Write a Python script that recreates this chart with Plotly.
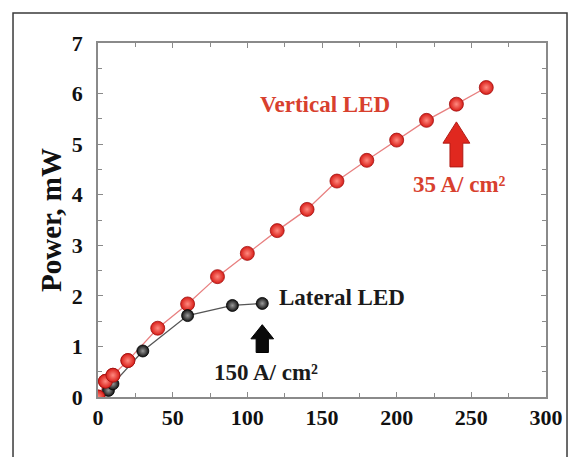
import plotly.graph_objects as go

# Data
vert_x = [0, 5, 10, 20, 40, 60, 80, 100, 120, 140, 160, 180, 200, 220, 240, 260]
vert_y = [0.0, 0.31, 0.43, 0.72, 1.36, 1.84, 2.38, 2.84, 3.29, 3.71, 4.27, 4.68, 5.08, 5.47, 5.79, 6.12]
lat_x = [0, 7, 10, 30, 60, 90, 110]
lat_y = [0.0, 0.13, 0.26, 0.91, 1.61, 1.81, 1.85]

x_ticks = [0, 50, 100, 150, 200, 250, 300]
y_ticks = [0, 1, 2, 3, 4, 5, 6, 7]

RED = "#e0281f"
FONT = "Liberation Serif"

fig = go.Figure()
fig.add_trace(go.Scatter(
    x=vert_x, y=vert_y, mode="lines+markers", name="Vertical LED",
    line=dict(color="#e88080", width=1.3),
    marker=dict(size=14, color="#d81c16", line=dict(color="#a01010", width=0.8),
                gradient=dict(type="radial", color="#ff8a80")),
    showlegend=False))
fig.add_trace(go.Scatter(
    x=lat_x, y=lat_y, mode="lines+markers", name="Lateral LED",
    line=dict(color="#555555", width=1.3),
    marker=dict(size=12, color="#111111", line=dict(color="#000000", width=0.8),
                gradient=dict(type="radial", color="#9a9a9a")),
    showlegend=False))
# red points near origin drawn on top as in reference
fig.add_trace(go.Scatter(
    x=vert_x[:4], y=vert_y[:4], mode="markers",
    marker=dict(size=14, color="#d81c16", line=dict(color="#a01010", width=0.8),
                gradient=dict(type="radial", color="#ff8a80")),
    showlegend=False, hoverinfo="skip"))


def block_arrow(xc, tip, base, bottom, half_head, half_shaft):
    return ("M {0} {1} L {2} {3} L {4} {3} L {4} {5} L {6} {5} L {6} {3} L {7} {3} Z"
            .format(xc, tip, xc + half_head, base, xc + half_shaft, bottom,
                    xc - half_shaft, xc - half_head))

shapes = [
    dict(type="path", xref="x", yref="y",
         path=block_arrow(vert_x[14], 5.44, 5.02, 4.55, 9.0, 4.3),
         fillcolor=RED, line=dict(color="#b01a14", width=1)),
    dict(type="path", xref="x", yref="y",
         path=block_arrow(lat_x[6], 1.43, 1.15, 0.88, 7.6, 4.1),
         fillcolor="#0a0a0a", line=dict(color="#000000", width=1)),
    dict(type="rect", xref="paper", yref="paper",
         x0=-0.1897, x1=1.0469, y0=-0.25, y1=1.0847,
         line=dict(color="#3a3a3a", width=1.5), layer="below"),
]

annotations = [
    dict(x=152, y=5.79, xref="x", yref="y", text="Vertical LED", showarrow=False,
         font=dict(family=FONT, size=23, color="#d8402e", weight="bold")),
    dict(x=242, y=4.21, xref="x", yref="y", text="35 A/ cm²", showarrow=False,
         font=dict(family=FONT, size=23, color="#d8402e", weight="bold")),
    dict(x=163.5, y=1.96, xref="x", yref="y", text="Lateral LED", showarrow=False,
         font=dict(family=FONT, size=23, color="#1a1a1a", weight="bold")),
    dict(x=112.5, y=0.48, xref="x", yref="y", text="150 A/ cm²", showarrow=False,
         font=dict(family=FONT, size=23, color="#1a1a1a", weight="bold")),
]

axis_common = dict(
    showgrid=False, zeroline=False, showline=True, linecolor="#8a8a8a", linewidth=1.5,
    mirror="ticks", ticks="inside", ticklen=5, tickcolor="#8a8a8a", tickwidth=1.2,
    tickfont=dict(family=FONT, size=22, color="#111111", weight="bold"),
)

fig.update_layout(
    width=575, height=457,
    margin=dict(l=98, r=29, t=43, b=60),
    paper_bgcolor="white", plot_bgcolor="white",
    shapes=shapes, annotations=annotations,
    xaxis=dict(range=[0, 300], tickvals=x_ticks,
               minor=dict(dtick=25, ticks="inside", ticklen=4, tickcolor="#8a8a8a"),
               **axis_common),
    yaxis=dict(range=[0, 7], tickvals=y_ticks, ticklabelstandoff=9,
               minor=dict(dtick=0.5, ticks="inside", ticklen=4, tickcolor="#8a8a8a"),
               title=dict(text="Power, mW", standoff=2,
                          font=dict(family=FONT, size=29, color="#111111", weight="bold")),
               **axis_common),
)

fig.write_html("out.html")
